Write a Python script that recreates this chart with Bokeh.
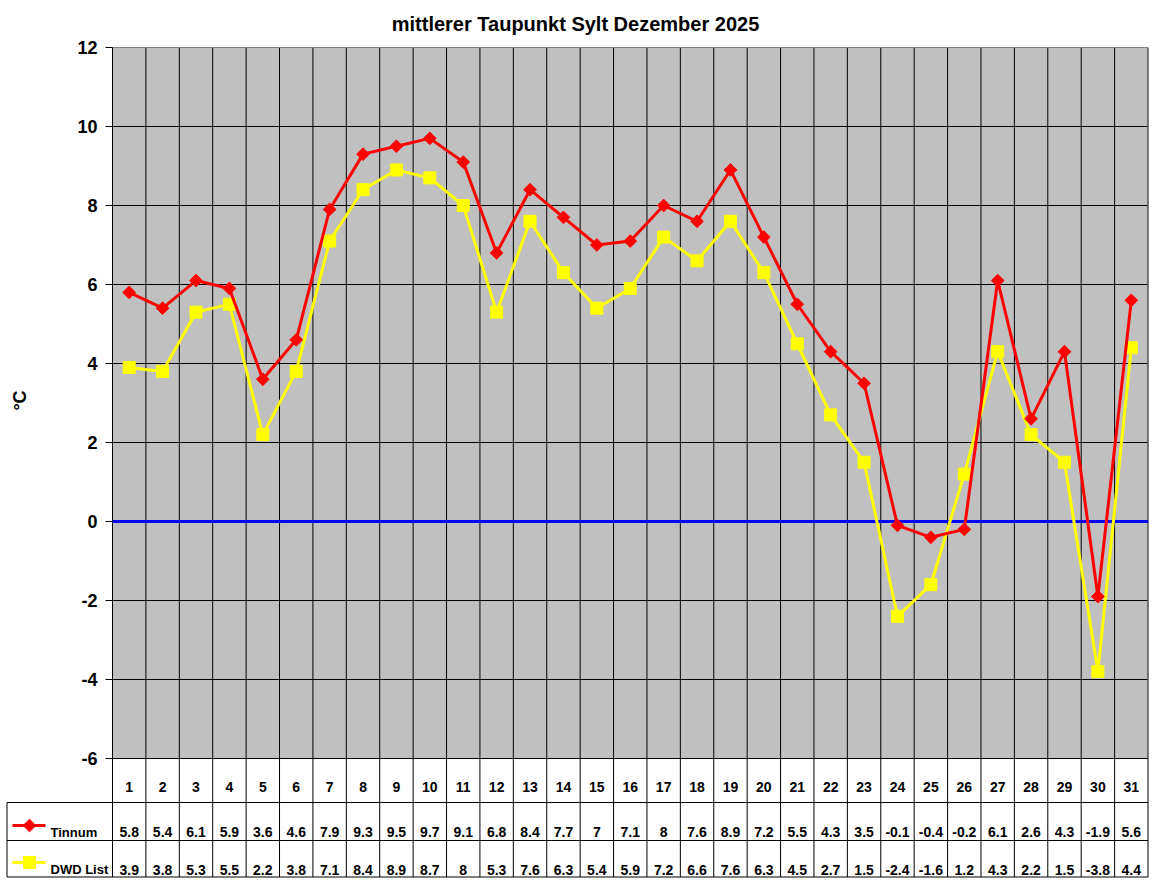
# mittlerer Taupunkt Sylt - line chart with data table below (Excel style)

from bokeh.plotting import figure
from bokeh.models import Range1d
from bokeh.core.properties import value
from bokeh.embed import file_html
from bokeh.resources import INLINE
import math

# ---- data
days = list(range(1, 32))
tinnum = [5.8, 5.4, 6.1, 5.9, 3.6, 4.6, 7.9, 9.3, 9.5, 9.7, 9.1, 6.8, 8.4, 7.7,
          7.0, 7.1, 8.0, 7.6, 8.9, 7.2, 5.5, 4.3, 3.5, -0.1, -0.4, -0.2, 6.1,
          2.6, 4.3, -1.9, 5.6]
dwd_list = [3.9, 3.8, 5.3, 5.5, 2.2, 3.8, 7.1, 8.4, 8.9, 8.7, 8.0, 5.3, 7.6, 6.3,
            5.4, 5.9, 7.2, 6.6, 7.6, 6.3, 4.5, 2.7, 1.5, -2.4, -1.6, 1.2, 4.3,
            2.2, 1.5, -3.8, 4.4]
y_ticks = [-6, -4, -2, 0, 2, 4, 6, 8, 10, 12]
series_names = ["Tinnum", "DWD List"]
title = "mittlerer Taupunkt Sylt Dezember 2025"
y_label = "°C"

RED = "#FF0000"
YELLOW = "#FFFF00"
FONT = value("Liberation Sans")

# ---- layout (canvas pixels)
W, H = 1150, 878
chart_left, chart_right = 112, 1147.5      # plot area in px
chart_top, chart_bottom = 47, 758
bounds = [d - 0.5 for d in days] + [days[-1] + 0.5]
y_lo, y_hi = y_ticks[0], y_ticks[-1]

ux = (chart_right - chart_left) / (bounds[-1] - bounds[0])   # px per day
uy = (chart_bottom - chart_top) / (y_hi - y_lo)              # px per degree
x0 = bounds[0] - chart_left / ux
x1 = bounds[-1] + (W - chart_right) / ux
y1 = y_hi + chart_top / uy
y0 = y_lo - (H - chart_bottom) / uy


def cx(px):
    # canvas px from left -> data x
    return x0 + px / ux


def cy(px):
    # canvas px from top -> data y
    return y1 - px / uy


p = figure(width=W, height=H, x_range=Range1d(x0, x1), y_range=Range1d(y0, y1),
           x_axis_location=None, y_axis_location=None, title=None,
           output_backend="svg", toolbar_location=None, min_border=0)
p.grid.visible = False
p.outline_line_color = None
p.background_fill_color = "white"
p.border_fill_color = "white"

# table geometry
row_lines = [802, 840, 876.5]
t_bottom = cy(row_lines[-1])

# plot area with grid
p.quad(left=[bounds[0]], right=[bounds[-1]], bottom=[y_lo], top=[y_hi],
       fill_color="#C0C0C0", line_color=None)
p.segment(x0=[bounds[0]] * len(y_ticks), y0=y_ticks,
          x1=[bounds[-1]] * len(y_ticks), y1=y_ticks,
          line_color="black", line_width=1)
p.segment(x0=bounds, y0=[y_hi] * len(bounds), x1=bounds, y1=[t_bottom] * len(bounds),
          line_color="black", line_width=1)
# grey plot area border (top and right)
p.line([bounds[0], bounds[-1], bounds[-1]], [y_hi, y_hi, y_lo],
       line_color="#808080", line_width=1)

# zero line
p.segment(x0=[bounds[0]], y0=[0], x1=[bounds[-1]], y1=[0],
          line_color="#0000FF", line_width=3)

# series
p.line(days, dwd_list, line_color=YELLOW, line_width=3)
p.scatter(days, dwd_list, marker="square", size=12, color=YELLOW)
p.line(days, tinnum, line_color=RED, line_width=3)
p.scatter(days, tinnum, marker="square", angle=math.pi / 4, size=9, color=RED)

# y axis: ticks, labels, title
p.segment(x0=[cx(chart_left - 7)] * len(y_ticks), y0=y_ticks,
          x1=[bounds[0]] * len(y_ticks), y1=y_ticks, line_color="black", line_width=1)
p.text([cx(97)] * len(y_ticks), y_ticks, text=[str(v) for v in y_ticks],
       text_font=FONT, text_font_style="bold", text_font_size="18px",
       text_color="black", text_align="right", text_baseline="middle")
p.text([cx(19.5)], [cy(400)], text=[y_label], angle=math.pi / 2,
       text_font=FONT, text_font_style="bold", text_font_size="18px",
       text_color="black", text_align="center", text_baseline="middle")
p.text([cx(575)], [cy(23.5)], text=[title],
       text_font=FONT, text_font_style="bold", text_font_size="20px",
       text_color="black", text_align="center", text_baseline="middle")

# ---- data table
left_edge = cx(6.5)
p.segment(x0=[left_edge], y0=[cy(row_lines[0])], x1=[left_edge], y1=[t_bottom],
          line_color="black", line_width=1)
p.segment(x0=[left_edge] * 3, y0=[cy(r) for r in row_lines],
          x1=[bounds[-1]] * 3, y1=[cy(r) for r in row_lines],
          line_color="black", line_width=1)

cell_font = dict(text_font=FONT, text_font_style="bold", text_font_size="14px",
                 text_color="black", text_align="center", text_baseline="middle")
p.text(days, [cy(786.5)] * len(days), text=[str(d) for d in days], **cell_font)
p.text(days, [cy(831.5)] * len(days), text=[f"{v:g}" for v in tinnum], **cell_font)
p.text(days, [cy(869.5)] * len(days), text=[f"{v:g}" for v in dwd_list], **cell_font)

# legend keys in the table
p.line([cx(12), cx(45)], [cy(825), cy(825)], line_color=RED, line_width=3)
p.scatter([cx(29)], [cy(825)], marker="square", angle=math.pi / 4, size=9, color=RED)
p.line([cx(12), cx(45)], [cy(862), cy(862)], line_color=YELLOW, line_width=3)
p.scatter([cx(29)], [cy(862)], marker="square", size=12, color=YELLOW)
p.text([cx(50), cx(50)], [cy(831.5), cy(868.5)], text=series_names,
       text_font=FONT, text_font_style="bold", text_font_size="13px",
       text_color="black", text_align="left", text_baseline="middle")

open("out.html", "w").write(file_html(p, INLINE))
